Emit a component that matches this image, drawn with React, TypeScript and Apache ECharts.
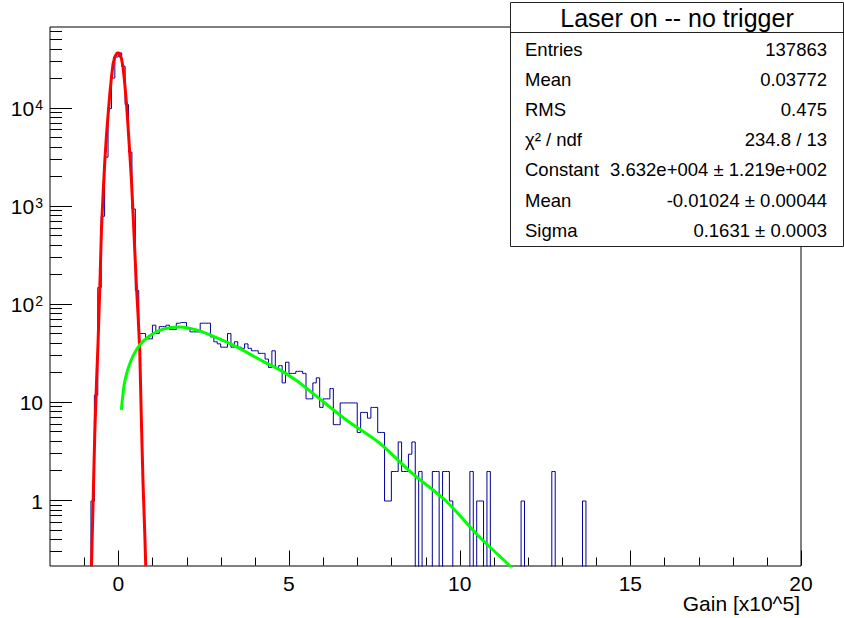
import React, { useEffect, useRef } from 'react';
import * as echarts from 'echarts';

const FONT = '"Liberation Sans", Arial, Helvetica, sans-serif';

// Histogram: bins of width 0.1 starting at -0.9
const BIN_WIDTH = 0.1;
const FIRST_BIN_LOW = -0.9;
const peakCounts = [0, 1, 12, 150, 800, 3200, 10000, 20500, 33600, 37000, 27000, 11000, 3600, 950, 140];
const plateauCounts = [
  51, 51, 45, 45, 62, 51, 60, 60, 62, 56, 56, 65, 66, 66, 57, 53, 53, 53, 65, 65, 65, 47, 42, 40, 37,
  37, 51, 37, 42, 37, 36, 40, 36, 34, 34, 32, 32, 28, 23, 34, 23, 24, 16, 26, 20, 20, 21, 21, 20,
];
const tailCounts = [
  11, 11, 16, 18, 9, 11, 11, 14, 6, 6, 10, 10, 10, 10, 10, 5, 8, 8, 7, 9, 9, 5, 5, 1, 1, 2, 2, 4, 2, 2, 3, 4,
  0, 2, 0, 0, 0, 2, 2, 0, 2, 2, 1, 0, 0, 0, 0, 0, 2, 0, 1, 1, 0, 2,
  0, 0, 0, 0, 0, 0, 0, 0, 0, 1, 0, 0, 0, 0, 0, 0, 0, 0, 2, 0, 0, 0, 0, 0, 0, 0, 0, 1, 0, 0, 0,
];

// Gaussian fit curve (red)
const redX = [-0.785, -0.737, -0.688, -0.638, -0.591, -0.541, -0.492, -0.445, -0.395, -0.345, -0.298, -0.249, -0.199, -0.152, -0.102, -0.035, 0.023, 0.094, 0.14, 0.19, 0.24, 0.287, 0.337, 0.386, 0.433, 0.483, 0.533, 0.579, 0.629, 0.679, 0.726, 0.776, 0.805];
const redY = [0.217, 1.0, 4.9, 16, 42, 150, 600, 1350, 2900, 5400, 8700, 14000, 21000, 28700, 33700, 36900, 36900, 32300, 26600, 18000, 11300, 6500, 3500, 1860, 850, 360, 152, 80, 34.6, 6.2, 1.5, 0.47, 0.217];

// Second component fit curve (green)
const greenX = [0.09, 0.14, 0.19, 0.29, 0.43, 0.63, 0.92, 1.31, 1.8, 2.29, 2.77, 3.26, 3.75, 4.24, 4.73, 5.21, 5.7, 6.68, 7.65, 8.62, 9.6, 10.58, 11.46, 11.6];
const greenY = [8.5, 12.5, 16.5, 22.5, 30, 39, 48.5, 56.5, 59.5, 55.5, 48, 40.5, 33, 26.5, 21.7, 17, 12.5, 6.7, 3.9, 1.9, 1.0, 0.43, 0.22, 0.19];

// Axes
const X_MIN = -2;
const X_MAX = 20;
const Y_MIN = 0.2175;
const Y_MAX = 68000;
const xMajorTicks = [0, 5, 10, 15, 20];
const xMinorTicks = [-1, 1, 2, 3, 4, 6, 7, 8, 9, 11, 12, 13, 14, 16, 17, 18, 19];
const yMajorTicks = [1, 10, 100, 1000, 10000];
const yMinorTicks = [
  0.3, 0.4, 0.5, 0.6, 0.7, 0.8, 0.9, 2, 3, 4, 5, 6, 7, 8, 9, 20, 30, 40, 50, 60, 70, 80, 90,
  200, 300, 400, 500, 600, 700, 800, 900, 2000, 3000, 4000, 5000, 6000, 7000, 8000, 9000,
  20000, 30000, 40000, 50000, 60000,
];

// Stats box
const statsTitle = 'Laser on -- no trigger';
const statsLabels = ['Entries', 'Mean', 'RMS', 'χ² / ndf', 'Constant', 'Mean', 'Sigma'];
const statsValues = ['137863', '0.03772', '0.475', '234.8 / 13', '3.632e+004 ± 1.219e+002', '-0.01024 ± 0.00044', '0.1631 ± 0.0003'];
const xAxisTitle = 'Gain [x10^5]';

export default function App() {
  const ref = useRef<HTMLDivElement>(null);
  useEffect(() => {
    if (!ref.current) return;
    const chart = echarts.init(ref.current, null, { renderer: 'svg' });

    const allCounts = [...peakCounts, ...plateauCounts, ...tailCounts];
    const histData = allCounts.map((c, i) => [
      FIRST_BIN_LOW + (i + 0.5) * BIN_WIDTH,
      c > 0 ? c : 0.01,
    ]);
    const redData = redX.map((x, i) => [x, redY[i]]);
    const greenData = greenX.map((x, i) => [x, greenY[i]]);

    // tick items: [x, y, length, orientation(0 = x axis, 1 = y axis)]
    const tickData: number[][] = [];
    xMajorTicks.forEach((t) => tickData.push([t, Y_MIN, 15, 0]));
    xMinorTicks.forEach((t) => tickData.push([t, Y_MIN, 8, 0]));
    yMajorTicks.forEach((t) => tickData.push([X_MIN, t, 22, 1]));
    yMinorTicks.forEach((t) => tickData.push([X_MIN, t, 12, 1]));

    const rowY0 = 49.5;
    const rowStep = 30.1;
    const statsChildren: any[] = [
      {
        type: 'rect',
        shape: { x: 510.5, y: 2.5, width: 333, height: 244 },
        style: { fill: '#fff', stroke: '#222', lineWidth: 1 },
      },
      {
        type: 'line',
        shape: { x1: 510.5, y1: 32.5, x2: 843.5, y2: 32.5 },
        style: { stroke: '#222', lineWidth: 1 },
      },
      {
        type: 'text',
        style: {
          x: 677, y: 18, text: statsTitle, fill: '#000', font: `25px ${FONT}`,
          textAlign: 'center', textVerticalAlign: 'middle',
        },
      },
    ];
    statsLabels.forEach((lab, i) => {
      statsChildren.push({
        type: 'text',
        style: {
          x: 525, y: rowY0 + i * rowStep, text: lab, fill: '#000', font: `18.5px ${FONT}`,
          textAlign: 'left', textVerticalAlign: 'middle',
        },
      });
      statsChildren.push({
        type: 'text',
        style: {
          x: 827, y: rowY0 + i * rowStep, text: statsValues[i], fill: '#000', font: `18.5px ${FONT}`,
          textAlign: 'right', textVerticalAlign: 'middle',
        },
      });
    });

    chart.setOption({
      animation: false,
      grid: {
        left: 50, right: 43, top: 27, bottom: 52,
        show: true, borderColor: '#000', borderWidth: 1, backgroundColor: 'transparent',
      },
      xAxis: {
        type: 'value', min: X_MIN, max: X_MAX, splitNumber: 5,
        axisLine: { show: false }, axisTick: { show: false }, splitLine: { show: false },
        axisLabel: {
          showMinLabel: false, fontSize: 21, color: '#000', fontFamily: FONT, margin: 7,
        },
      },
      yAxis: {
        type: 'log', logBase: 10, min: Y_MIN, max: Y_MAX,
        axisLine: { show: false }, axisTick: { show: false }, splitLine: { show: false },
        axisLabel: {
          showMinLabel: false, showMaxLabel: false, fontSize: 21, color: '#000', fontFamily: FONT, margin: 7,
          formatter: (v: number) => {
            const e = Math.round(Math.log10(v));
            if (Math.abs(Math.log10(v) - e) > 1e-6) return '';
            if (e === 0) return '1';
            if (e === 1) return '10';
            return `10{sup|${e}}`;
          },
          rich: {
            sup: { fontSize: 14, fontFamily: FONT, color: '#000', verticalAlign: 'top', padding: [0, 0, 0, 1] },
          },
        },
      },
      series: [
        {
          type: 'line', step: 'middle', data: histData, symbol: 'none', clip: true,
          lineStyle: { color: '#000099', width: 1 }, z: 2,
        },
        {
          type: 'line', data: redData, symbol: 'none', clip: true,
          lineStyle: { color: '#ff0000', width: 3 }, z: 3,
        },
        {
          type: 'line', data: greenData, symbol: 'none', clip: true, smooth: 0.3,
          lineStyle: { color: '#00ff00', width: 3 }, z: 4,
        },
        {
          type: 'custom', data: tickData, clip: false, z: 5, silent: true,
          encode: { x: 0, y: 1 },
          renderItem: (params: any, api: any) => {
            const p = api.coord([api.value(0), api.value(1)]);
            const len = api.value(2);
            const o = api.value(3);
            const x = Math.round(p[0]) + 0.5;
            const y = Math.round(p[1]) - 0.5;
            return {
              type: 'line',
              shape: o === 0
                ? { x1: x, y1: y, x2: x, y2: y - len }
                : { x1: p[0], y1: y, x2: p[0] + len, y2: y },
              style: { stroke: '#000', lineWidth: 1 },
            };
          },
        },
      ],
      graphic: [
        { type: 'group', z: 100, children: statsChildren },
        {
          type: 'text', z: 100,
          style: {
            x: 800, y: 603, text: xAxisTitle, fill: '#000', font: `21px ${FONT}`,
            textAlign: 'right', textVerticalAlign: 'middle',
          },
        },
      ],
    });
    return () => chart.dispose();
  }, []);
  return <div ref={ref} style={{ position: 'absolute', left: 0, top: 0, width: 844, height: 618 }} />;
}
